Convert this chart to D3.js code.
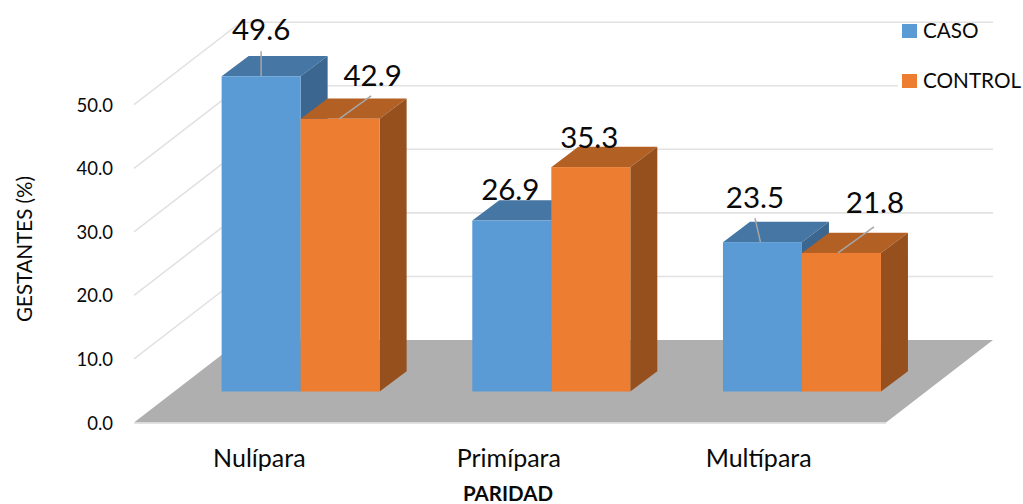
<!DOCTYPE html>
<html><head><meta charset="utf-8">
<script src="https://cdn.jsdelivr.net/npm/d3@7"></script>
<style>html,body{margin:0;padding:0;background:#fff}svg{display:block}text{font-family:Lato,sans-serif;fill:#0a0a0a}</style>
</head><body><div id="c"></div>
<script>
const categories = ["Nulípara","Primípara","Multípara"];
const seriesNames = ["CASO","CONTROL"];
const caso = [49.6,26.9,23.5];
const control = [42.9,35.3,21.8];
const yTicks = [0,10,20,30,40,50];

const W=1023,H=504;
const svg=d3.select("#c").append("svg").attr("width",W).attr("height",H);
const y=d3.scaleLinear().domain([0,50]).range([422.5,104.7]);
const x0=d3.scaleBand().domain(categories).range([134,886]);
const depth={dx:107,dy:-82.5};
const barShift={dx:40,dy:-31};
const barDepth={dx:27,dy:-20.3};
const x1=d3.scaleBand().domain(seriesNames).range([0,158]);
const colors={CASO:{front:"#5b9bd5",top:"#4676a3",side:"#3a668f"},CONTROL:{front:"#ed7d31",top:"#b26024",side:"#95501d"}};
const poly=pts=>pts.map(p=>p.join(",")).join(" ");

// gridlines
const grid=svg.append("g").attr("fill","none").attr("stroke","#e2e2e2").attr("stroke-width",2);
grid.selectAll(".d").data(yTicks.slice(1)).join("polyline")
  .attr("stroke-width",1.6)
  .attr("points",v=>poly([[x0.range()[0],y(v)],[x0.range()[0]+depth.dx,y(v)+depth.dy],[x0.range()[1]+depth.dx,y(v)+depth.dy]]));

// floor
const f=y(0),xl=x0.range()[0],xr=x0.range()[1];
svg.append("polygon").attr("fill","#afafaf")
  .attr("points",poly([[xl,f],[xr,f],[xr+depth.dx,f+depth.dy],[xl+depth.dx,f+depth.dy]]));
svg.append("line").attr("x1",xl).attr("x2",xr).attr("y1",f+.8).attr("y2",f+.8).attr("stroke","#e2e2e2").attr("stroke-width",1.2);

// bars
const rows=categories.flatMap((c,i)=>[
  {c,s:"CASO",v:caso[i]},{c,s:"CONTROL",v:control[i]}]);
const bx=d=>x0(d.c)+(x0.bandwidth()-x1.range()[1])/2+barShift.dx+x1(d.s)+1.3;
const base=y(0)+barShift.dy;
const barTop=d=>base-(y(0)-y(d.v));
const bars=svg.append("g").selectAll("g").data(rows).join("g");
bars.append("polygon").attr("fill",d=>colors[d.s].top).attr("points",d=>{const a=bx(d),b=a+x1.bandwidth(),t=barTop(d);
  return poly([[a,t],[b,t],[b+barDepth.dx,t+barDepth.dy],[a+barDepth.dx,t+barDepth.dy]]);});
bars.append("polygon").attr("fill",d=>colors[d.s].side).attr("points",d=>{const b=bx(d)+x1.bandwidth(),t=barTop(d);
  return poly([[b,t],[b+barDepth.dx,t+barDepth.dy],[b+barDepth.dx,base+barDepth.dy],[b,base]]);});
bars.append("rect").attr("fill",d=>colors[d.s].front).attr("x",bx).attr("y",barTop).attr("width",x1.bandwidth()).attr("height",d=>base-barTop(d));

// data labels and leaders (offsets from the bar's top-left corner)
const labelLayout=[
 {lx0:39.5,ly0:0,lx1:39.5,ly1:-25,tx:39.5,ty:-48},
 {lx0:38.5,ly0:0,lx1:70.5,ly1:-23,tx:72,ty:-44},
 {tx:38,ty:-32},
 {tx:38,ty:-31},
 {lx0:37.5,ly0:0,lx1:32,ly1:-24,tx:32,ty:-46},
 {lx0:36,ly0:0,lx1:72,ly1:-26,tx:73,ty:-51}
];
const lab=svg.append("g");
rows.forEach((d,i)=>{const L=labelLayout[i],a=bx(d),t=barTop(d);
  if(L.lx0!==undefined) lab.append("line").attr("x1",a+L.lx0).attr("y1",t+L.ly0).attr("x2",a+L.lx1).attr("y2",t+L.ly1).attr("stroke","#a6a6a6").attr("stroke-width",1.5);
  lab.append("text").attr("x",a+L.tx).attr("y",t+L.ty).attr("text-anchor","middle").attr("dominant-baseline","central").attr("font-size",29.5).text(d3.format(".1f")(d.v));
});

// y axis labels
svg.append("g").selectAll("text").data(yTicks).join("text")
  .attr("x",113).attr("y",v=>y(v)).attr("text-anchor","end").attr("dominant-baseline","central").attr("font-size",18.5)
  .text(d3.format(".1f"));

// category labels
const catNudge=[0,-1.2,-2];
svg.append("g").selectAll("text").data(categories).join("text")
  .attr("x",(c,i)=>x0(c)+x0.bandwidth()/2+catNudge[i]).attr("y",457).attr("text-anchor","middle").attr("dominant-baseline","central").attr("font-size",25).text(c=>c);

svg.append("text").attr("transform","translate(24,249) rotate(-90)").attr("text-anchor","middle").attr("dominant-baseline","central").attr("font-size",20.5).text("GESTANTES (%)");
svg.append("text").attr("x",508).attr("y",493).attr("text-anchor","middle").attr("dominant-baseline","central").attr("font-size",20.5).attr("font-weight",700).text("PARIDAD");

// legend
svg.append("rect").attr("x",898).attr("y",24).attr("width",125).attr("height",72).attr("fill","#fff");
const lg=svg.append("g").selectAll("g").data(seriesNames).join("g").attr("transform",(d,i)=>`translate(902,${24+i*50})`);
lg.append("rect").attr("width",15).attr("height",14).attr("fill",d=>colors[d].front);
lg.append("text").attr("x",21).attr("y",6).attr("dominant-baseline","central").attr("font-size",20.7).text(d=>d);
</script></body></html>
